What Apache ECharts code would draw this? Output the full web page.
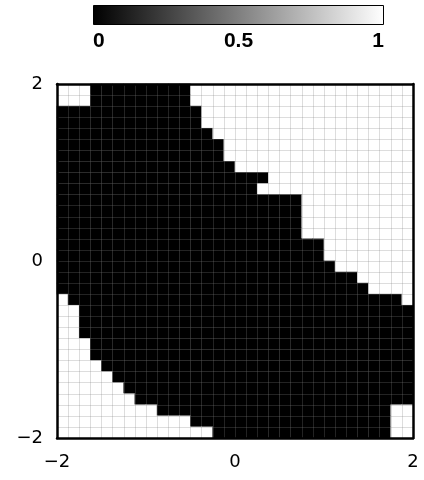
<!DOCTYPE html>
<html>
<head>
<meta charset="utf-8">
<script src="https://cdn.jsdelivr.net/npm/echarts@6/dist/echarts.min.js"></script>
<style>
html,body{margin:0;padding:0;background:#fff;}
#chart{width:424px;height:480px;}
</style>
</head>
<body>
<div id="chart"></div>
<script>
// 32x32 binary field, rows listed from top (y = 2) to bottom (y = -2)
const gridRows = [
  "11100000 00001111 11111111 11111111",
  "11100000 00001111 11111111 11111111",
  "00000000 00000111 11111111 11111111",
  "00000000 00000111 11111111 11111111",
  "00000000 00000011 11111111 11111111",
  "00000000 00000001 11111111 11111111",
  "00000000 00000001 11111111 11111111",
  "00000000 00000000 11111111 11111111",
  "00000000 00000000 00011111 11111111",
  "00000000 00000000 00111111 11111111",
  "00000000 00000000 00000011 11111111",
  "00000000 00000000 00000011 11111111",
  "00000000 00000000 00000011 11111111",
  "00000000 00000000 00000011 11111111",
  "00000000 00000000 00000000 11111111",
  "00000000 00000000 00000000 11111111",
  "00000000 00000000 00000000 01111111",
  "00000000 00000000 00000000 00011111",
  "00000000 00000000 00000000 00001111",
  "10000000 00000000 00000000 00000001",
  "11000000 00000000 00000000 00000000",
  "11000000 00000000 00000000 00000000",
  "11000000 00000000 00000000 00000000",
  "11100000 00000000 00000000 00000000",
  "11100000 00000000 00000000 00000000",
  "11110000 00000000 00000000 00000000",
  "11111000 00000000 00000000 00000000",
  "11111100 00000000 00000000 00000000",
  "11111110 00000000 00000000 00000000",
  "11111111 10000000 00000000 00000011",
  "11111111 11110000 00000000 00000011",
  "11111111 11111100 00000000 00000011"
];
const xRange = [-2, 2];
const yRange = [-2, 2];
const axisTickLabels = [-2, 0, 2];
const colorbarTicks = [0, 0.5, 1];
const colorRange = ['#000000', '#ffffff'];

const nRows = gridRows.length;
const nCols = gridRows[0].replace(/ /g, '').length;
const cellW = (xRange[1] - xRange[0]) / nCols;
const cellH = (yRange[1] - yRange[0]) / nRows;

const cells = [];
gridRows.forEach((row, r) => {
  const s = row.replace(/ /g, '');
  for (let c = 0; c < s.length; c++) {
    const x = xRange[0] + cellW * (c + 0.5);
    const y = yRange[1] - cellH * (r + 0.5);
    cells.push([x, y, Number(s[c])]);
  }
});

function fmtTick(v) {
  for (const t of axisTickLabels) {
    if (Math.abs(v - t) < 1e-9) return String(t).replace('-', '\u2212');
  }
  return '';
}

const chart = echarts.init(document.getElementById('chart'));
const lineColor = 'rgba(128,128,128,0.27)';
const labelStyle = {color: '#000', fontSize: 18, fontFamily: 'DejaVu Sans'};

chart.setOption({
  animation: false,
  grid: [
    {left: 57, right: 11, top: 84, bottom: 42},
    {left: 93, right: 40, top: 5, height: 20}
  ],
  visualMap: {
    type: 'continuous', show: false, seriesIndex: 0, dimension: 2,
    min: colorbarTicks[0], max: colorbarTicks[colorbarTicks.length - 1],
    inRange: {color: colorRange}
  },
  xAxis: [
    {
      type: 'value', gridIndex: 0, min: xRange[0], max: xRange[1], interval: cellW, z: 5,
      axisLine: {show: true, onZero: false, lineStyle: {color: '#000', width: 2.5}},
      axisTick: {show: false},
      splitLine: {show: true, lineStyle: {color: lineColor, width: 1}},
      axisLabel: Object.assign({margin: 15, formatter: fmtTick, showMinLabel: true, showMaxLabel: true}, labelStyle)
    },
    {
      type: 'value', gridIndex: 0, position: 'top', min: xRange[0], max: xRange[1], z: 5,
      axisLine: {show: true, onZero: false, lineStyle: {color: '#000', width: 2.5}},
      axisTick: {show: false}, splitLine: {show: false}, axisLabel: {show: false}
    },
    {
      type: 'value', gridIndex: 1, min: colorbarTicks[0], max: colorbarTicks[2], interval: colorbarTicks[1] - colorbarTicks[0],
      axisLine: {show: false}, axisTick: {show: false}, splitLine: {show: false},
      axisLabel: {
        margin: 6, color: '#000', fontSize: 21, fontWeight: 'bold', fontFamily: 'Liberation Sans',
        alignMinLabel: 'left', alignMaxLabel: 'right', showMinLabel: true, showMaxLabel: true,
        formatter: v => String(v)
      }
    }
  ],
  yAxis: [
    {
      type: 'value', gridIndex: 0, min: yRange[0], max: yRange[1], interval: cellH, z: 5,
      axisLine: {show: true, onZero: false, lineStyle: {color: '#000', width: 2.5}},
      axisTick: {show: false},
      splitLine: {show: true, lineStyle: {color: lineColor, width: 1}},
      axisLabel: Object.assign({margin: 14, formatter: fmtTick, showMinLabel: true, showMaxLabel: true}, labelStyle)
    },
    {
      type: 'value', gridIndex: 0, position: 'right', min: yRange[0], max: yRange[1], z: 5,
      axisLine: {show: true, onZero: false, lineStyle: {color: '#000', width: 2.5}},
      axisTick: {show: false}, splitLine: {show: false}, axisLabel: {show: false}
    },
    {
      type: 'category', gridIndex: 1, data: ['bar'], show: false
    }
  ],
  series: [
    {
      type: 'custom', xAxisIndex: 0, yAxisIndex: 0, z: 2,
      data: cells,
      encode: {x: 0, y: 1},
      renderItem: function (params, api) {
        const x = api.value(0), y = api.value(1);
        const p0 = api.coord([x - cellW / 2, y + cellH / 2]);
        const p1 = api.coord([x + cellW / 2, y - cellH / 2]);
        const col = api.visual('color');
        return {
          type: 'rect',
          shape: {x: p0[0] - 0.3, y: p0[1] - 0.3, width: p1[0] - p0[0] + 0.6, height: p1[1] - p0[1] + 0.6},
          style: {fill: col}
        };
      }
    },
    {
      type: 'bar', xAxisIndex: 2, yAxisIndex: 2, barWidth: '100%',
      data: [colorbarTicks[2]],
      itemStyle: {
        borderColor: '#000', borderWidth: 1,
        color: new echarts.graphic.LinearGradient(0, 0, 1, 0, [
          {offset: 0, color: colorRange[0]},
          {offset: 1, color: colorRange[1]}
        ])
      }
    }
  ]
});
</script>
</body>
</html>
